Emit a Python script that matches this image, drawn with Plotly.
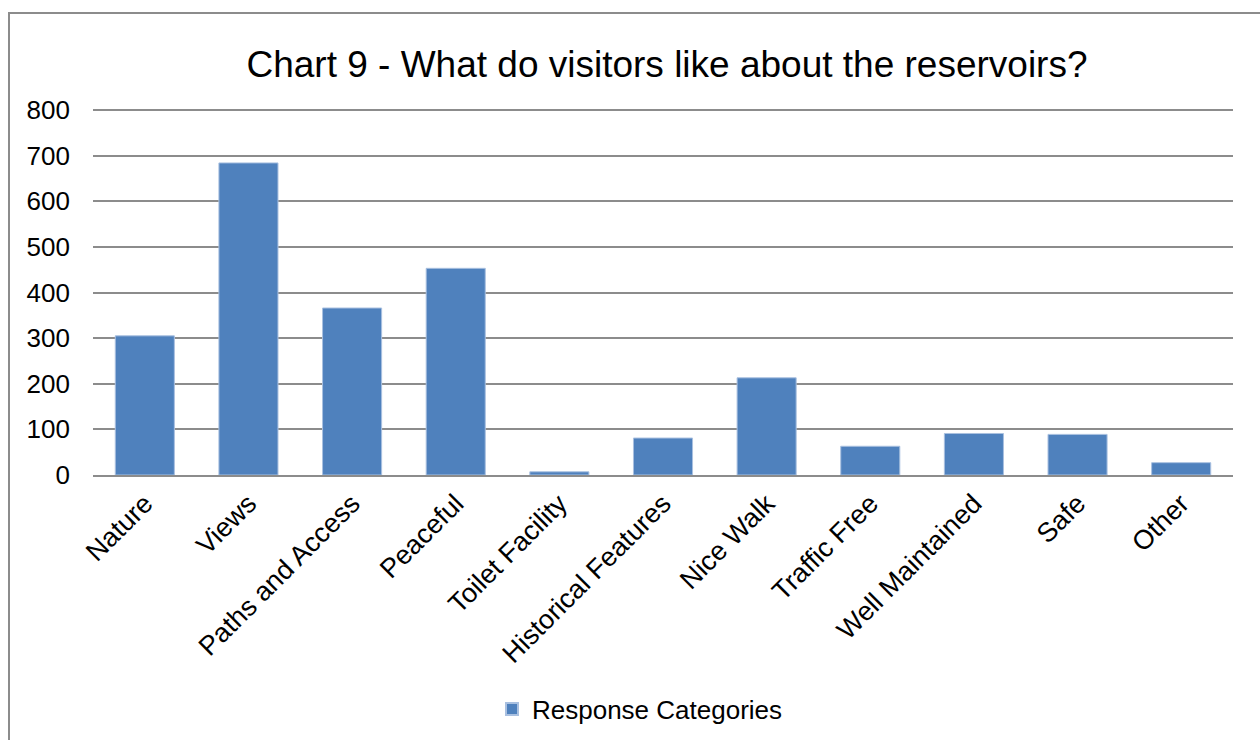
import plotly.graph_objects as go

categories = ["Nature", "Views", "Paths and Access", "Peaceful", "Toilet Facility",
              "Historical Features", "Nice Walk", "Traffic Free", "Well Maintained",
              "Safe", "Other"]
values = [305, 684, 366, 453, 7, 81, 213, 63, 91, 89, 27]
series_name = "Response Categories"
title_text = "Chart 9 - What do visitors like about the reservoirs?"
y_ticks = [0, 100, 200, 300, 400, 500, 600, 700, 800]

FONT = "Liberation Sans, Arial, sans-serif"
BAR = "#4F81BD"
GRID = "#8C8C8C"

W, H = 1260, 740
L, R, T, B = 93, 27, 106, 265
y_top = 800 + 4 / 0.45625  # small headroom so the 800 gridline is drawn

fig = go.Figure()
fig.add_trace(go.Bar(
    x=categories, y=values, name=series_name,
    marker=dict(color=BAR, line=dict(color="#A9C0E0", width=1)),
    showlegend=True,
))

pw = W - L - R
ph = H - T - B
fig.update_layout(
    width=W, height=H,
    margin=dict(l=L, r=R, t=T, b=B, autoexpand=False),
    paper_bgcolor="white", plot_bgcolor="white",
    font=dict(family=FONT, color="black", size=26),
    bargap=0.43,
    title=dict(text=title_text, x=667 / W, xanchor="center",
               y=1 - 64 / H, yanchor="middle",
               font=dict(size=37, family=FONT, color="black")),
    xaxis=dict(
        tickangle=-45, tickfont=dict(size=27), showgrid=False,
        showline=True, linecolor=GRID, linewidth=2,
        ticks="", automargin=False,
    ),
    yaxis=dict(
        range=[0, y_top], tickvals=y_ticks, tickfont=dict(size=26),
        showgrid=True, gridcolor=GRID, gridwidth=2,
        zeroline=False, showline=False, ticks="",
        ticklabelstandoff=22, automargin=False,
    ),
    legend=dict(orientation="h", x=(640 - L) / pw, xanchor="center",
                y=-(709 - (H - B)) / ph, yanchor="middle",
                xref="paper", yref="paper",
                font=dict(size=26), itemsizing="constant"),
    shapes=[dict(
        type="rect", xref="paper", yref="paper", layer="above",
        x0=(9 - L) / pw, x1=(W + 20 - L) / pw,
        y0=-(H + 20 - (H - B)) / ph, y1=((H - B) - 13) / ph,
        line=dict(color="#8C8C8C", width=2), fillcolor="rgba(0,0,0,0)",
    )],
)

fig.write_html("out.html")
